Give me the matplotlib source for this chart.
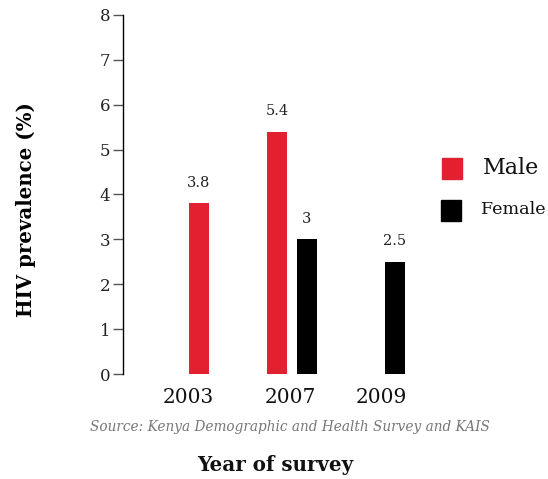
import numpy as np
import matplotlib.pyplot as plt

plt.rcParams['font.family'] = ['DejaVu Serif']

years = ['2003', '2007', '2009']
male = [3.8, 5.4, np.nan]
female = [np.nan, 3.0, 2.5]

# bar layout (x units along the category axis)
group_x = np.array([0.91, 1.69, 2.57])
year_label_x = [0.65, 1.67, 2.59]
offset = 0.15
bar_w = 0.2

red = '#e22030'
black = '#000000'

fig = plt.figure(figsize=(5.48, 4.79), dpi=100)
ax = fig.add_axes([0.2245, 0.2192, 0.547, 0.7495])

ax.bar(group_x - offset, male, width=bar_w, color=red, label='Male')
ax.bar(group_x + offset, female, width=bar_w, color=black, label='Female')

for x, v in zip(group_x - offset, male):
    if not np.isnan(v):
        ax.text(x, v + 0.3, f'{v:g}', ha='center', va='bottom', fontsize=10.5, color='#222222')
for x, v in zip(group_x + offset, female):
    if not np.isnan(v):
        ax.text(x, v + 0.3, f'{v:g}', ha='center', va='bottom', fontsize=10.5, color='#222222')

ax.set_xlim(0, 3.0)
ax.set_ylim(0, 8)
ax.set_yticks(range(0, 9))
ax.tick_params(axis='y', length=7, width=1, color='#555555', labelsize=12,
               labelcolor='#222222', pad=2)
ax.set_xticks(year_label_x)
ax.set_xticklabels(years, fontsize=14.5, color='#111111')
ax.tick_params(axis='x', length=0, pad=10)

for s in ['top', 'right', 'bottom']:
    ax.spines[s].set_visible(False)
ax.spines['left'].set_linewidth(1)

ax.set_ylabel('HIV prevalence (%)', fontsize=14.2, fontweight='bold', labelpad=0)
ax.yaxis.set_label_coords(-0.29, 0.457)

# legend entries: coloured squares with labels of different sizes
fig.patches.append(plt.Rectangle((442 / 548, 1 - 179 / 479), 20 / 548, 21 / 479,
                                 transform=fig.transFigure, color=red))
fig.patches.append(plt.Rectangle((441 / 548, 1 - 221 / 479), 20 / 548, 21 / 479,
                                 transform=fig.transFigure, color=black))
fig.text(483 / 548, 1 - 168 / 479, 'Male', fontsize=16, va='center', ha='left', color='#111111')
fig.text(481 / 548, 1 - 210 / 479, 'Female', fontsize=12.6, va='center', ha='left', color='#111111')

fig.text(290 / 548, 1 - 427 / 479, 'Source: Kenya Demographic and Health Survey and KAIS',
         fontsize=9.8, style='italic', color='#777777', ha='center', va='center')
fig.text(275 / 548, 1 - 465 / 479, 'Year of survey', fontsize=14.3, fontweight='bold',
         ha='center', va='center', color='#111111')

fig.savefig('out.png', dpi=100)
